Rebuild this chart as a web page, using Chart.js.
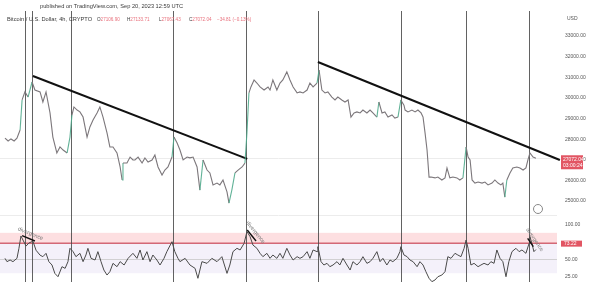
<!DOCTYPE html>
<html>
<head>
<meta charset="utf-8">
<script src="https://cdn.jsdelivr.net/npm/chart.js@4.4.0/dist/chart.umd.min.js"></script>
<style>
  html, body { margin: 0; padding: 0; background: #fff; }
  #wrap { position: relative; width: 600px; height: 282px; overflow: hidden; font-family: "Liberation Sans", Arial, sans-serif; }
  canvas { position: absolute; left: 0; }
  #priceCanvas { top: 0; }
  #rsiCanvas { top: 216px; }
  .hdr { position: absolute; white-space: nowrap; color: #3a3a3a; z-index: 2; }
  .ohlc { font-size: 4.6px; top: 16.5px; }
  .red { color: #e8707c; }
</style>
</head>
<body>
<div id="wrap">
  <canvas id="priceCanvas" width="600" height="216"></canvas>
  <canvas id="rsiCanvas" width="600" height="66"></canvas>
  <div class="hdr" style="left:40px;top:3px;font-size:5.7px;">published on TradingView.com, Sep 20, 2023 12:59 UTC</div>
  <div class="hdr" style="left:7px;top:16px;font-size:5.7px;">Bitcoin / U.S. Dollar, 4h, CRYPTO</div>
  <div class="hdr ohlc" style="left:97px;">O<span class="red">27106.90</span></div>
  <div class="hdr ohlc" style="left:127px;">H<span class="red">27133.71</span></div>
  <div class="hdr ohlc" style="left:159px;">L<span class="red">27067.43</span></div>
  <div class="hdr ohlc" style="left:189px;">C<span class="red">27072.04</span></div>
  <div class="hdr ohlc red" style="left:217px;">−34.81 (−0.13%)</div>
</div>
<script>
// days counted from the left edge of the visible range
const priceDays = [0, 1.1, 2.1, 3.2, 4.2, 5.3, 6.0, 7.0, 8.1, 9.5, 10.5, 12.3, 13.3, 14.4, 15.8, 16.8, 18.2, 19.3, 20.4, 21.8,
  22.8, 23.5, 24.2, 25.3, 26.3, 27.4, 28.8, 29.8, 30.9, 32.3, 33.3, 34.4, 35.8, 36.8, 37.9, 39.3, 40.4, 41.1, 41.4, 42.8,
  43.9, 44.9, 45.6, 46.7, 48.1, 49.1, 50.2, 51.6, 52.6, 53.7, 55.1, 56.1, 57.2, 58.6, 59.3, 60.4, 61.4, 62.5, 63.9, 64.9,
  66.0, 67.4, 68.4, 69.5, 70.9, 71.9, 73.0, 74.4, 75.4, 76.5, 77.9, 78.6, 79.6, 80.7, 81.8, 83.2, 84.2, 84.9, 85.6, 86.3,
  87.4, 88.4, 89.5, 90.9, 92.3, 93.0, 94.0, 95.4, 96.5, 97.5, 98.9, 100.0, 101.1, 102.5, 103.5, 104.6, 106.0, 107.0, 108.1, 109.5,
  110.2, 111.2, 112.3, 113.3, 114.7, 115.8, 116.8, 118.2, 119.3, 120.4, 121.4, 122.5, 123.5, 124.6, 125.6, 127.0, 128.1, 129.1, 130.5, 131.2,
  132.3, 133.3, 134.4, 135.8, 136.8, 137.9, 138.9, 140.0, 140.4, 141.4, 142.8, 143.9, 144.9, 146.0, 146.7, 147.4, 148.1, 148.8, 149.5, 150.9,
  151.9, 153.3, 154.4, 155.1, 156.1, 157.2, 158.6, 159.6, 160.7, 161.8, 162.5, 163.2, 163.9, 164.9, 166.0, 167.4, 168.4, 169.5, 170.9, 171.9,
  173.0, 174.0, 174.7, 175.4, 176.1, 177.2, 178.2, 179.6, 180.7, 181.8, 182.8, 183.5, 184.2, 185.3, 186.3];
const priceValues = [28050, 27910, 28010, 27910, 28050, 28440, 29900, 30290, 30040, 30770, 30380, 30290, 29800, 30290, 29270, 28100, 27330, 27620, 27470, 27330,
  28100, 29170, 29560, 29410, 29320, 29070, 28100, 28590, 28930, 29270, 29560, 29070, 28300, 27620, 27620, 27330, 26650, 26020, 26840, 26840,
  27130, 26990, 26990, 27130, 26840, 27090, 26890, 26990, 27230, 26650, 26260, 26500, 26650, 27130, 28100, 27810, 27470, 26990, 27130, 27090,
  27130, 26650, 25530, 26990, 26500, 26360, 25780, 25870, 25780, 26020, 25440, 24900, 25530, 26360, 26500, 26650, 26840, 28300, 30240, 30530,
  30870, 30720, 30530, 30380, 30530, 30380, 30870, 30380, 30720, 30870, 31260, 30870, 30530, 30240, 30290, 30240, 30380, 30720, 30530, 30720,
  31350, 30380, 30240, 30290, 30040, 29900, 30040, 29900, 29800, 29900, 29070, 29270, 29320, 29270, 29410, 29270, 29410, 29270, 29070, 29800,
  29270, 29320, 29070, 29170, 29020, 29070, 29900, 29650, 29410, 29320, 29410, 29320, 29410, 29270, 29070, 28300, 27470, 26160, 26160, 26120,
  26160, 26020, 26120, 26600, 26120, 26160, 26120, 26020, 26120, 27620, 27130, 26990, 26020, 25870, 25920, 25870, 25920, 25780, 25870, 26020,
  25870, 25780, 25870, 25190, 26020, 26360, 26600, 26650, 26600, 26500, 26600, 26990, 27330, 27130, 27072.04];

const rsiDays = [0, 0.7, 1.8, 2.8, 4.2, 4.9, 5.6, 6.3, 7.4, 8.4, 9.8, 10.9, 12.3, 13.3, 14.4, 15.4, 16.5, 17.5, 18.6, 20.0,
  21.1, 22.1, 22.8, 23.9, 24.9, 26.3, 27.4, 28.4, 29.1, 30.2, 31.6, 32.6, 33.7, 34.7, 35.8, 36.8, 37.9, 39.3, 40.4, 41.8,
  43.2, 44.9, 46.3, 47.4, 48.4, 49.8, 50.9, 51.9, 53.3, 54.4, 55.8, 56.8, 58.6, 59.6, 60.7, 61.4, 63.2, 64.9, 66.7, 67.7,
  69.1, 70.9, 72.6, 74.4, 76.1, 77.9, 78.9, 80.0, 81.4, 82.5, 83.9, 84.9, 86.0, 87.0, 88.4, 89.5, 90.5, 91.9, 93.0, 94.0,
  95.4, 96.5, 97.5, 98.9, 100.0, 101.1, 102.5, 103.5, 104.6, 106.0, 107.0, 108.1, 109.5, 109.8, 110.9, 111.9, 113.0, 114.0, 115.1, 116.5,
  117.5, 118.6, 120.0, 121.1, 122.1, 123.5, 124.6, 125.6, 127.0, 128.1, 129.1, 130.5, 131.6, 132.6, 134.0, 135.1, 136.1, 137.5, 138.6, 138.9,
  140.0, 141.1, 142.1, 143.2, 144.6, 145.6, 146.7, 147.7, 148.8, 149.8, 150.9, 151.9, 153.3, 154.4, 155.4, 156.5, 157.9, 158.9, 160.0, 161.1,
  161.8, 162.5, 163.5, 164.6, 166.0, 167.0, 168.1, 169.5, 170.5, 171.6, 172.6, 173.7, 174.7, 175.8, 176.8, 177.9, 179.3, 180.4, 181.4, 182.8,
  183.9, 184.2, 184.9, 185.6, 186.3];
const rsiValues = [51.4, 46.6, 49.0, 46.6, 51.4, 65.8, 83.5, 77.7, 69.0, 73.4, 76.0, 63.0, 56.0, 53.8, 58.6, 46.6, 41.8, 29.8, 25.0, 39.4,
  37.0, 46.6, 65.8, 61.0, 53.8, 58.6, 46.6, 56.2, 65.8, 51.4, 49.0, 61.0, 46.6, 34.6, 27.4, 32.2, 44.2, 39.4, 46.6, 41.8,
  51.4, 58.6, 51.4, 63.4, 49.0, 61.0, 46.6, 56.2, 49.0, 41.8, 51.4, 61.0, 75.3, 61.0, 51.4, 46.6, 51.4, 41.8, 37.0, 22.7,
  46.6, 44.2, 51.4, 46.6, 53.8, 29.8, 41.8, 61.0, 65.8, 63.4, 72.9, 89.7, 82.5, 70.5, 65.8, 58.6, 53.8, 58.6, 51.4, 56.2,
  51.4, 58.6, 51.4, 65.8, 56.2, 49.0, 53.8, 51.4, 53.8, 61.0, 51.4, 63.4, 61.0, 68.1, 46.6, 41.8, 44.2, 39.4, 41.8, 46.6,
  41.8, 51.4, 41.8, 34.6, 46.6, 41.8, 46.6, 53.8, 44.2, 46.6, 51.4, 61.0, 46.6, 51.4, 41.8, 49.0, 46.6, 51.4, 61.0, 68.1,
  56.2, 53.8, 49.0, 46.6, 39.4, 46.6, 41.8, 32.2, 22.7, 17.9, 20.3, 25.0, 27.4, 32.2, 53.8, 51.4, 58.6, 56.2, 53.8, 65.8,
  77.7, 65.8, 41.8, 44.2, 39.4, 41.8, 44.2, 41.8, 46.6, 44.2, 63.4, 51.4, 46.6, 25.0, 46.6, 61.0, 65.8, 61.0, 63.4, 58.6,
  72.9, 82.5, 72.9, 61.0, 64.0];

// vertical marker lines (days)
const markerDays = [7.0, 9.5, 23.2, 58.9, 84.6, 109.8, 138.9, 161.8, 183.9];
// drawn trend lines on price: [day, price]
const trendA = [[9.8, 31060], [85.0, 27040]];
const trendB = [[109.8, 31740], [194.7, 26990]];
// divergence segments on RSI: [day, value]
const divergenceA = [[6.0, 83.9], [10.5, 76.3]];
const divergenceB = [[85.0, 92.1], [88.1, 76.3]];
const divergenceC = [[183.4, 80.2], [185.4, 68.1]];

const priceTicks = [25000, 26000, 27000, 28000, 29000, 30000, 31000, 32000, 33000];
const rsiTicks = [25, 50, 100];
const lastPrice = 27072.04;
const lastRsi = 73.22;

const X_MIN = -1.75, X_MAX = 193.7;
const FONT = "'Liberation Sans', Arial, sans-serif";

function pts(xs, ys) { return xs.map((x, i) => ({x: x, y: ys[i]})); }
function pairPts(seg) { return seg.map(p => ({x: p[0], y: p[1]})); }

function fixAxis(width) {
  return function(s) { s.width = width; s.paddingTop = 0; s.paddingBottom = 0; };
}

function drawMarkers(chart, top) {
  const ctx = chart.ctx, x = chart.scales.x;
  ctx.save();
  ctx.strokeStyle = 'rgba(70,70,70,0.85)';
  ctx.lineWidth = 1;
  markerDays.forEach(d => {
    const px = Math.round(x.getPixelForValue(d)) + 0.5;
    ctx.beginPath();
    ctx.moveTo(px, top);
    ctx.lineTo(px, chart.height);
    ctx.stroke();
  });
  ctx.restore();
}

const pricePanel = {
  id: 'pricePanel',
  beforeDatasetsDraw(chart) {
    const ctx = chart.ctx, a = chart.chartArea, y = chart.scales.y;
    ctx.save();
    ctx.strokeStyle = '#ececec';
    ctx.lineWidth = 1;
    const ly = Math.round(y.getPixelForValue(lastPrice)) + 0.5;
    ctx.beginPath(); ctx.moveTo(a.left, ly); ctx.lineTo(a.right, ly); ctx.stroke();
    ctx.beginPath(); ctx.moveTo(a.left, chart.height - 0.5); ctx.lineTo(a.right, chart.height - 0.5); ctx.stroke();
    ctx.restore();
    drawMarkers(chart, 11);
  },
  afterDraw(chart) {
    const ctx = chart.ctx, y = chart.scales.y;
    ctx.save();
    ctx.fillStyle = '#555';
    ctx.font = '5px ' + FONT;
    ctx.textBaseline = 'middle';
    ctx.fillText('USD', 567, 19);
    const py = y.getPixelForValue(lastPrice);
    ctx.fillStyle = '#e25563';
    ctx.fillRect(561, py - 3, 22, 14);
    ctx.fillStyle = '#fff';
    ctx.fillText(lastPrice.toFixed(2), 563, py + 1);
    ctx.fillText('03:00:24', 563, py + 7);
    // small logo badge
    ctx.strokeStyle = '#888';
    ctx.lineWidth = 1;
    ctx.beginPath(); ctx.arc(538, 209, 4.5, 0, Math.PI * 2); ctx.stroke();
    ctx.restore();
  }
};

const rsiPanel = {
  id: 'rsiPanel',
  beforeDatasetsDraw(chart) {
    const ctx = chart.ctx, a = chart.chartArea, y = chart.scales.y;
    ctx.save();
    // 30-level band
    ctx.fillStyle = 'rgba(149,117,205,0.10)';
    ctx.fillRect(a.left, y.getPixelForValue(lastRsi), a.right - a.left, y.getPixelForValue(30) - y.getPixelForValue(lastRsi));
    // overbought band
    ctx.fillStyle = 'rgba(242,54,69,0.16)';
    ctx.fillRect(a.left, y.getPixelForValue(88), a.right - a.left, y.getPixelForValue(lastRsi) - y.getPixelForValue(88));
    ctx.strokeStyle = 'rgba(200,200,200,0.8)';
    ctx.lineWidth = 1;
    const m = Math.round(y.getPixelForValue(50)) + 0.5;
    ctx.beginPath(); ctx.moveTo(a.left, m); ctx.lineTo(a.right, m); ctx.stroke();
    ctx.strokeStyle = 'rgba(205,80,95,0.85)';
    ctx.lineWidth = 1.5;
    const r = y.getPixelForValue(lastRsi);
    ctx.beginPath(); ctx.moveTo(a.left, r); ctx.lineTo(a.right, r); ctx.stroke();
    ctx.restore();
    drawMarkers(chart, 0);
  },
  afterDatasetsDraw(chart) {
    const ctx = chart.ctx, x = chart.scales.x, y = chart.scales.y;
    ctx.save();
    [divergenceA, divergenceB, divergenceC].forEach(seg => {
      const x1 = x.getPixelForValue(seg[0][0]), y1 = y.getPixelForValue(seg[0][1]);
      const x2 = x.getPixelForValue(seg[1][0]), y2 = y.getPixelForValue(seg[1][1]);
      ctx.strokeStyle = '#111';
      ctx.lineWidth = 1.4;
      ctx.beginPath(); ctx.moveTo(x1, y1); ctx.lineTo(x2, y2); ctx.stroke();
      const ang = Math.atan2(y2 - y1, x2 - x1);
      const cx = (x1 + x2) / 2 + Math.sin(ang) * 5, cy = (y1 + y2) / 2 - Math.cos(ang) * 5;
      ctx.translate(cx, cy);
      ctx.rotate(ang);
      ctx.fillStyle = '#777';
      ctx.font = '5.5px ' + FONT;
      ctx.textAlign = 'center';
      ctx.textBaseline = 'middle';
      ctx.fillText('divergence', 0, 0);
      ctx.setTransform(1, 0, 0, 1, 0, 0);
    });
    ctx.restore();
  },
  afterDraw(chart) {
    const ctx = chart.ctx, y = chart.scales.y;
    const py = y.getPixelForValue(lastRsi);
    ctx.save();
    ctx.fillStyle = '#e25563';
    ctx.fillRect(561, py - 2.5, 21, 6);
    ctx.fillStyle = '#fff';
    ctx.font = '5px ' + FONT;
    ctx.textBaseline = 'middle';
    ctx.fillText(lastRsi.toFixed(2), 564, py + 0.5);
    ctx.restore();
  }
};

new Chart(document.getElementById('priceCanvas').getContext('2d'), {
  type: 'line',
  data: {
    datasets: [{
      data: pts(priceDays, priceValues),
      borderColor: '#7c777b',
      borderWidth: 1.1,
      pointRadius: 0,
      tension: 0,
      segment: {
        borderColor: c => (c.p1.parsed.y - c.p0.parsed.y > 600 ? 'rgba(80,170,140,0.9)' : undefined)
      }
    }, {
      data: pairPts(trendA),
      borderColor: '#111',
      borderWidth: 2,
      pointRadius: 0,
      clip: false
    }, {
      data: pairPts(trendB),
      borderColor: '#111',
      borderWidth: 2,
      pointRadius: 0,
      clip: false
    }]
  },
  options: {
    responsive: false,
    animation: false,
    devicePixelRatio: 1,
    layout: { padding: { top: 28, left: 0, right: 0, bottom: 0 } },
    plugins: { legend: { display: false }, tooltip: { enabled: false } },
    scales: {
      x: { type: 'linear', min: X_MIN, max: X_MAX, display: false },
      y: {
        position: 'right',
        min: 24273,
        max: 33388,
        afterFit: fixAxis(43),
        afterBuildTicks: s => { s.ticks = priceTicks.map(v => ({value: v})); },
        ticks: {
          callback: v => Number(v).toFixed(2),
          font: { size: 5, family: FONT },
          color: '#555',
          padding: 8
        },
        grid: { display: false, drawTicks: false },
        border: { display: false }
      }
    }
  },
  plugins: [pricePanel]
});

new Chart(document.getElementById('rsiCanvas').getContext('2d'), {
  type: 'line',
  data: {
    datasets: [{
      data: pts(rsiDays, rsiValues),
      borderColor: '#4a4a4a',
      borderWidth: 1,
      pointRadius: 0,
      tension: 0
    }]
  },
  options: {
    responsive: false,
    animation: false,
    devicePixelRatio: 1,
    layout: { padding: 0 },
    plugins: { legend: { display: false }, tooltip: { enabled: false } },
    scales: {
      x: { type: 'linear', min: X_MIN, max: X_MAX, display: false },
      y: {
        position: 'right',
        min: 17.4,
        max: 112.2,
        afterFit: fixAxis(43),
        afterBuildTicks: s => { s.ticks = rsiTicks.map(v => ({value: v})); },
        ticks: {
          callback: v => Number(v).toFixed(2),
          font: { size: 5, family: FONT },
          color: '#555',
          padding: 8
        },
        grid: { display: false, drawTicks: false },
        border: { display: false }
      }
    }
  },
  plugins: [rsiPanel]
});
</script>
</body>
</html>
